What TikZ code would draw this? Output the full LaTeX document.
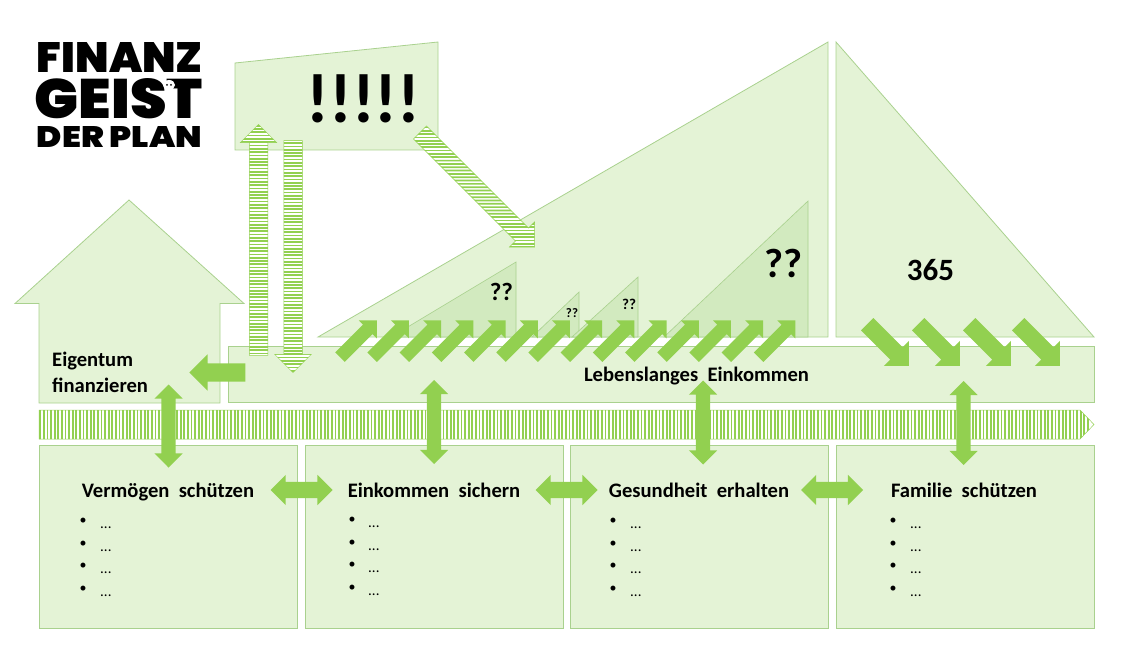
\documentclass[tikz,border=0pt]{standalone}
\usepackage{fontspec}
\setmainfont{Carlito}[WordSpace=2]
\newfontfamily\logofont{Poppins Black}
\usepackage{tikz}
\usetikzlibrary{shapes.arrows, shapes.symbols}
\definecolor{panelfill}{HTML}{E4F3D6}
\definecolor{panelline}{HTML}{A9D18E}
\definecolor{innerfill}{HTML}{D2EABF}
\definecolor{arrowfill}{HTML}{92D050}
\tikzset{
    panel/.style = {draw = panelline, fill = panelfill, line width = 0.8pt},
    listbox/.style = {panel, rectangle, anchor = north west, minimum width = 258 pt, minimum height = 183 pt, outer sep = 0},
    inner/.style = {draw = panelline, fill = innerfill, line width = 0.6pt},
    solid/.style = {fill = arrowfill, inner xsep = 0, outer sep = 0},
    oneway/.style = {single arrow, single arrow head indent = 0},
    twoway/.style = {double arrow, double arrow head indent = 0},
    rising/.style = {solid, oneway, rotate = 45, minimum height = 52 pt, minimum width = 25 pt, single arrow head extend = 6 pt, inner ysep = 6.5 pt},
    falling/.style = {solid, oneway, rotate = -45, minimum height = 59 pt, minimum width = 35 pt, single arrow head extend = 9 pt, inner ysep = 8.5 pt},
    upright/.style = {solid, twoway, rotate = 90, minimum width = 28 pt, double arrow head extend = 7 pt, inner ysep = 7 pt},
    across/.style = {solid, twoway, minimum height = 62 pt, minimum width = 30 pt, double arrow head extend = 7 pt, inner ysep = 8 pt},
    crossbars/.style = {fill = white, path picture = {
        \foreach \s in {-132,-128.7,...,132}
            \draw [arrowfill, line width = 1.7pt] (\s,-30) -- (\s,30);
    }},
    slantbars/.style = {fill = white, path picture = {
        \foreach \s in {-140,-135.3,...,140}
            \draw [arrowfill, line width = 1.7pt] (\s - 40,40) -- (\s + 40,-40);
    }},
    striped/.style = {oneway, draw = arrowfill, line width = 0.5pt, inner xsep = 0, outer sep = 0},
    title/.style = {font = \bfseries\fontsize{20.6}{24}\selectfont, inner sep = 0},
    marks/.style = {font = \bfseries, inner sep = 0},
    logo/.style = {font = \logofont, inner sep = 0, text = black}
}
\begin{document}
\begin{tikzpicture}[x = 1pt, y = -1pt]
        \useasboundingbox (0,0) rectangle (1125,663);

        \node (logo1) [logo] at (120,57.5) {\resizebox{166pt}{30pt}{FINANZ}};
        \node (logo2) [logo] at (119,98.5) {\resizebox{168pt}{40pt}{GEIST}};
        \node (logo3) [logo] at (119.5,137) {\resizebox{165pt}{21pt}{DER PLAN}};
        \fill [white] (169,85) ellipse (6 and 5);
        \fill [black] (167,85) circle (1) (171,85) circle (1);

        \draw [panel] (235,63) -- (438,42) -- (438,150) -- (235,150) -- cycle;
        \draw [panel] (318,337) -- (828,42) -- (828,337) -- cycle;
        \draw [panel] (836,42) -- (1094,337) -- (836,337) -- cycle;
        \draw [panel] (129,200) -- (244,303.5) -- (220,303.5) -- (220,403) -- (39,403) -- (39,303.5) -- (15,303.5) -- cycle;
        \draw [inner] (391,337) -- (516,262) -- (516,337) -- cycle;
        \draw [inner] (532,337) -- (579,292) -- (579,337) -- cycle;
        \draw [inner] (572,337) -- (638,277) -- (638,337) -- cycle;
        \draw [inner] (664,337) -- (808,201) -- (808,337) -- cycle;

        \node (band) [panel, rectangle, anchor = north west, minimum width = 866 pt, minimum height = 56 pt, outer sep = 0] at (228,346) {};
        \node (time) [signal, signal to = east, signal from = nowhere, signal pointer angle = 92, draw = arrowfill, line width = 0.5pt,
            fill = white, inner sep = 0, outer sep = 0, minimum width = 1055 pt, minimum height = 29 pt, anchor = west,
            path picture = {
                \foreach \s in {-530,-526.4,...,530}
                    \draw [arrowfill, line width = 1.8pt] (\s,-16) -- (\s,16);
            }] at (39,424.5) {};

        \node (protect) [listbox] at (39,445) {};
        \node (income) [listbox] at (305,445) {};
        \node (health) [listbox] at (570,445) {};
        \node (family) [listbox] at (836,445) {};

        \node (exclaim) [marks, font = \bfseries\fontsize{70}{70}\selectfont, anchor = base] at (363.5,123) {!!!!!};
        \node (days) [marks, font = \bfseries\fontsize{31}{31}\selectfont, anchor = base] at (930.5,280) {365};
        \node (ask1) [marks, font = \bfseries\fontsize{25}{25}\selectfont, anchor = base] at (501.5,301) {??};
        \node (ask2) [marks, font = \bfseries\fontsize{13}{13}\selectfont, anchor = base] at (572,317) {??};
        \node (ask3) [marks, font = \bfseries\fontsize{15}{15}\selectfont, anchor = base] at (629,309) {??};
        \node (ask4) [marks, font = \bfseries\fontsize{41}{41}\selectfont, anchor = base] at (783.5,277) {??};

        \node (up) [striped, crossbars, rotate = 90, minimum height = 231 pt, minimum width = 36 pt, single arrow head extend = 9 pt, inner ysep = 9 pt] at (258.5,244.5) {};
        \node (down) [striped, crossbars, rotate = -90, minimum height = 232 pt, minimum width = 36 pt, single arrow head extend = 9 pt, inner ysep = 9 pt] at (293,252) {};
        \node (slant) [striped, slantbars, rotate = -45, minimum height = 162 pt, minimum width = 35 pt, single arrow head extend = 8.5 pt, inner ysep = 9 pt] at (474,186.5) {};

        \foreach \i in {0,...,13}
            \node (rise\i) [rising] at ({356 + 32.2 * \i},341.2) {};
        \foreach \i in {0,...,3}
            \node (fall\i) [falling] at ({885 + 51 * \i - (\i == 3) * 2},342) {};

        \node (buy) [solid, oneway, rotate = 180, minimum height = 56 pt, minimum width = 35 pt, single arrow head extend = 9 pt, inner ysep = 9 pt] at (222,372.5) {};
        \node (link1) [upright, minimum height = 83 pt] at (168.5,426) {};
        \node (link2) [upright, minimum height = 84 pt] at (434,422) {};
        \node (link3) [upright, minimum height = 84 pt] at (703,422.5) {};
        \node (link4) [upright, minimum height = 84 pt] at (963.5,423) {};
        \node (side1) [across] at (301.5,490) {};
        \node (side2) [across] at (566.5,490) {};
        \node (side3) [across] at (832,490) {};

        \node (own) [title, align = left, anchor = north west, font = \bfseries\fontsize{20.6}{26}\selectfont] at (52,352) {Eigentum\\finanzieren};
        \node (life) [title, anchor = base] at (696.5,381) {Lebenslanges Einkommen};
        \node (title1) [title, anchor = base] at (168,497) {Vermögen schützen};
        \node (title2) [title, anchor = base] at (434,497) {Einkommen sichern};
        \node (title3) [title, anchor = base] at (699,497) {Gesundheit erhalten};
        \node (title4) [title, anchor = base] at (964,497) {Familie schützen};

        \foreach \bx/\tx/\dy/\n in {83/100/0/a, 352/368/-1/b, 613/630/0/c, 893/910/0/d}
            \foreach \by [count = \k] in {521,544,566,589.5} {
                \node (dot\n\k) [inner sep = 0, font = \fontsize{14}{14}\selectfont] at (\bx,\by + \dy) {•};
                \node (item\n\k) [inner sep = 0, anchor = base west, font = \fontsize{15}{15}\selectfont] at (\tx,\by + \dy + 7) {...};
            }
    \end{tikzpicture}
\end{document}
